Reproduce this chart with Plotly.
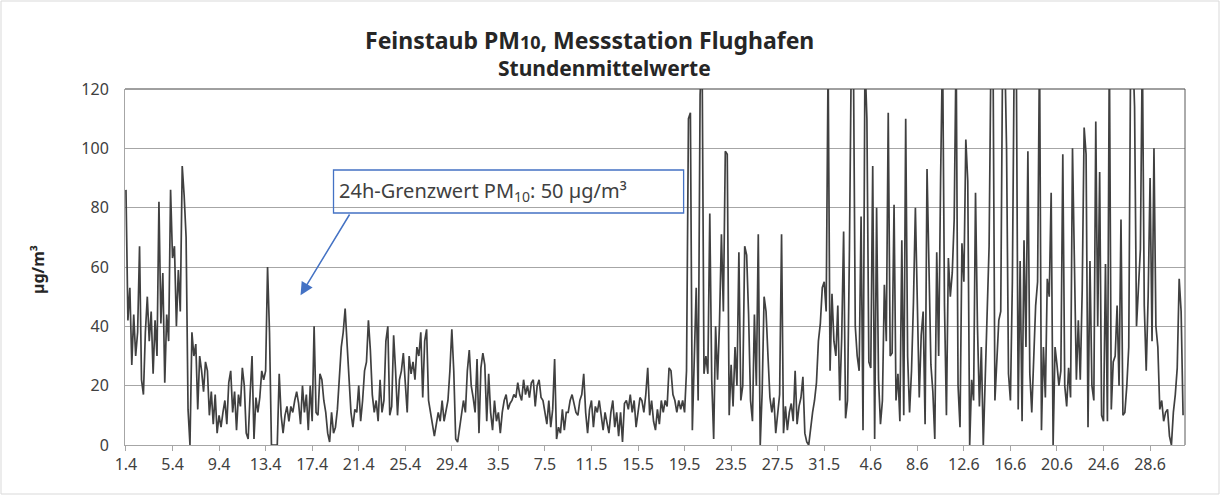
import plotly.graph_objects as go

april_values = [
    86, 42, 53, 27, 44, 30,   38, 67, 22, 17, 38, 50,   35, 45, 24, 42, 30, 82,
    41, 58, 21, 44, 35, 86,   63, 67, 40, 59, 45, 94,   84, 70, 12, 0, 38, 30,
    34, 12, 30, 25, 18, 28,   25, 10, 18, 7, 17, 4,     10, 6, 11, 15, 7, 21,
    25, 11, 18, 5, 17, 13,    26, 20, 4, 2, 17, 30,     2, 16, 11, 16, 25, 22,
    25, 60, 38, 0, 0, 0,      0, 24, 10, 4, 10, 13,     8, 13, 11, 15, 18, 14,
    7, 20, 11, 17, 5, 20,     8, 40, 11, 10, 24, 22,    15, 11, 4, 1, 11, 4,
    6, 12, 23, 33, 38, 46,    34, 22, 11, 6, 12, 11,    20, 8, 15, 25, 28, 42,
    32, 17, 11, 15, 8, 22,    11, 15, 35, 40, 10, 13,   37, 25, 10, 22, 25, 31,
    22, 11, 30, 24, 28, 22,   33, 30, 38, 16, 35, 39,   15, 11, 6, 3, 7, 11,
    8, 15, 8, 11, 15, 25,     39, 25, 2, 1, 6, 10,      15, 11, 25, 32, 20, 16,
]
may_values = [
    11, 29, 4, 26, 31, 27,    8, 24, 11, 5, 15, 8,      11, 4, 11, 15, 17, 12,
    14, 15, 17, 16, 21, 17,   15, 22, 17, 20, 16, 21,   22, 13, 20, 22, 16, 15,
    11, 7, 15, 6, 12, 29,     2, 6, 4, 12, 5, 11,       11, 15, 17, 14, 11, 10,
    15, 17, 24, 11, 4, 12,    15, 6, 13, 11, 15, 10,    5, 11, 7, 4, 11, 15,
    6, 11, 3, 11, 1, 14,      15, 12, 17, 11, 15, 6,    11, 16, 15, 11, 17, 26,
    10, 15, 8, 5, 12, 7,      15, 11, 15, 13, 26, 25,   17, 15, 11, 15, 12, 15,
    11, 25, 110, 112, 5, 30,  53, 15, 118, 135, 24, 30, 24, 78, 22, 2, 40, 22,
    41, 71, 45, 99, 98, 10,   27, 13, 33, 20, 65, 15,   20, 67, 64, 44, 15, 8,
    44, 20, 71, 0, 18, 50,    45, 30, 16, 11, 16, 4,    12, 17, 71, 4, 13, 5,
    11, 14, 8, 25, 7, 13,     16, 23, 4, 1, 0, 6,       11, 15, 21, 35, 41, 53,
    55, 45, 130, 25, 51, 35,
]
june_values = [
    30, 47, 15, 36, 72, 9,    15, 66, 135, 135, 40, 30, 25, 77, 5, 130, 110, 28,
    26, 94, 2, 80, 22, 7,     15, 54, 35, 112, 30, 31,  81, 15, 24, 8, 69, 10,
    110, 30, 11, 25, 48, 80,  50, 16, 37, 45, 7, 93,    60, 27, 18, 2, 65, 30,
    90, 135, 47, 10, 63, 50,  58, 76, 135, 20, 6, 68,   55, 103, 89, 0, 22, 15,
    85, 40, 13, 33, 0, 22,    50, 67, 135, 135, 15, 30, 42, 45, 135, 135, 100, 24,
    15, 55, 135, 135, 12, 62, 8, 69, 33, 99, 24, 11,    27, 47, 55, 135, 5, 33,
    16, 56, 50, 85, 0, 33,    27, 20, 25, 98, 20, 13,   26, 16, 100, 67, 22, 42,
    22, 52, 107, 98, 6, 62,   20, 15, 109, 40, 92, 10,   8, 61, 8, 135, 12, 28,
    30, 47, 20, 76, 10, 11,   20, 33, 135, 135, 114, 40, 56, 66, 135, 47, 25, 50,
    90, 35, 100, 40, 33, 12,  15, 8, 11, 12, 3, 0,      11, 17, 26, 56, 45, 10,
]

tick_labels = ["1.4", "5.4", "9.4", "13.4", "17.4", "21.4", "25.4", "29.4",
               "3.5", "7.5", "11.5", "15.5", "19.5", "23.5", "27.5", "31.5",
               "4.6", "8.6", "12.6", "16.6", "20.6", "24.6", "28.6"]

HOURS_PER_SAMPLE = 4
values = april_values + may_values + june_values
hours = [i * HOURS_PER_SAMPLE for i in range(len(values))]
tick_hours = [i * 96 for i in range(len(tick_labels))]

FONT = "Noto Sans, Open Sans, sans-serif"
TXT = "#404040"
W, H = 1221, 496
L, R, T, B = 125, 36, 89, 51
PW, PH = W - L - R, H - T - B


def px_x(px):
    return (px - L) / PW


def px_y(py):
    return (T + PH - py) / PH


fig = go.Figure()
fig.add_trace(go.Scatter(
    x=hours, y=values, mode="lines",
    line=dict(color="#404040", width=1.7),
    hoverinfo="skip", showlegend=False,
))

fig.update_layout(
    width=W, height=H,
    margin=dict(l=L, r=R, t=T, b=B),
    paper_bgcolor="white", plot_bgcolor="white",
    font=dict(family=FONT, size=16, color=TXT),
    xaxis=dict(
        range=[-2, 2184],
        tickmode="array", tickvals=tick_hours, ticktext=tick_labels,
        showgrid=False, zeroline=False,
        showline=True, linecolor="#a6a6a6", linewidth=1,
        ticks="outside", ticklen=5, tickcolor="#a6a6a6",
        tickfont=dict(size=16, color=TXT),
    ),
    yaxis=dict(
        range=[0, 120], dtick=20,
        showgrid=True, gridcolor="#a6a6a6", gridwidth=1,
        zeroline=False,
        showline=True, linecolor="#a6a6a6", linewidth=1,
        ticks="", tickfont=dict(size=16, color=TXT),
        ticklabelstandoff=12,
    ),
)

# title (two lines)
fig.add_annotation(xref="paper", yref="paper", x=px_x(589), y=px_y(40),
                   xanchor="center", yanchor="middle", showarrow=False,
                   text="<b>Feinstaub PM<span style='font-size:18px'>10</span>, Messstation Flughafen</b>",
                   font=dict(family=FONT, size=23, color="#262626"))
fig.add_annotation(xref="paper", yref="paper", x=px_x(604), y=px_y(68),
                   xanchor="center", yanchor="middle", showarrow=False,
                   text="<b>Stundenmittelwerte</b>",
                   font=dict(family=FONT, size=21, color="#262626"))

# plot area top/right border and outer chart border
fig.add_shape(type="line", xref="paper", yref="paper", x0=0, x1=1, y0=1, y1=1,
              line=dict(color="#404040", width=1))
fig.add_shape(type="line", xref="paper", yref="paper", x0=1, x1=1, y0=0, y1=1,
              line=dict(color="#595959", width=1))
fig.add_shape(type="rect", xref="paper", yref="paper",
              x0=px_x(1), x1=px_x(W - 2), y0=px_y(H - 2), y1=px_y(1),
              line=dict(color="#d9d9d9", width=1))

# y-axis title
fig.add_annotation(xref="paper", yref="paper", x=px_x(38), y=px_y(270),
                   xanchor="center", yanchor="middle",
                   text="<b>µg/m³</b>", textangle=-90, showarrow=False,
                   font=dict(family=FONT, size=16, color="#262626"))

# annotation box with arrow
fig.add_shape(type="rect", xref="x", yref="y", x0=428, x1=1150, y0=78.2, y1=92.7,
              line=dict(color="#4472C4", width=1.3))
fig.add_annotation(xref="x", yref="y", x=436, y=85.4, xanchor="left",
                   text="24h-Grenzwert PM<sub>10</sub>: 50 µg/m³", showarrow=False,
                   font=dict(family=FONT, size=20, color=TXT))
fig.add_annotation(xref="x", yref="y", x=360, y=50.5, axref="x", ayref="y",
                   ax=463, ay=78.2, text="", showarrow=True,
                   arrowhead=2, arrowsize=1.7, arrowwidth=1.5, arrowcolor="#4472C4")

fig.write_html("out.html", config={"displayModeBar": False},
               post_script="document.body.style.margin='0';")
